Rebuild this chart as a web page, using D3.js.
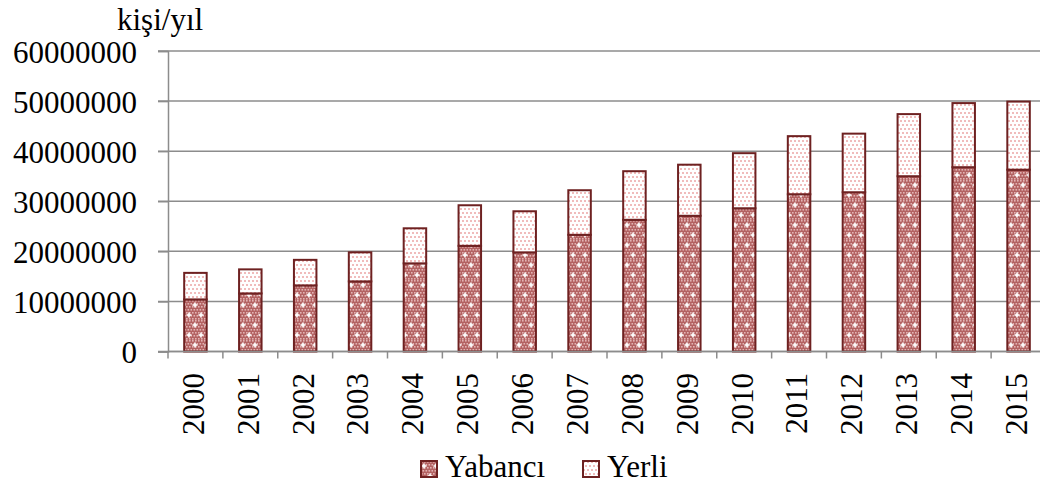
<!DOCTYPE html>
<html>
<head>
<meta charset="utf-8">
<script src="https://cdn.jsdelivr.net/npm/d3@7/dist/d3.min.js"></script>
</head>
<body style="margin:0; background:#fff">
<div id="chart"></div>
<script>
// data
var years = ["2000","2001","2002","2003","2004","2005","2006","2007",
             "2008","2009","2010","2011","2012","2013","2014","2015"];
var yabanci = [10.4, 11.6, 13.2, 14.0, 17.6, 21.1, 19.8, 23.3,
               26.3, 27.1, 28.6, 31.4, 31.8, 35.0, 36.8, 36.3].map(function(v) { return v * 1e6; });
var yerli = [5.3, 4.8, 5.1, 5.8, 7.0, 8.1, 8.2, 8.9,
             9.7, 10.2, 11.0, 11.6, 11.7, 12.4, 12.8, 13.6].map(function(v) { return v * 1e6; });
var yTicks = [0, 10000000, 20000000, 30000000, 40000000, 50000000, 60000000];
var keys = ["Yabancı", "Yerli"];

var W = 1040, H = 486;
var plotLeft = 168, plotRight = 1046, plotTop = 51, plotBottom = 351.5;
var serif = "\"Liberation Serif\"";
var fontSize = "31px";

var svg = d3.select("#chart").append("svg")
  .attr("width", W)
  .attr("height", H);

// fill patterns
var defs = svg.append("defs");

var pYab = defs.append("pattern")
  .attr("id", "pat-yab")
  .attr("patternUnits", "userSpaceOnUse")
  .attr("width", 12).attr("height", 20);
pYab.append("rect").attr("width", 12).attr("height", 20).attr("fill", "#b36262");
for (var i = 0; i < 4; i++) {
  for (var j = 0; j < 7; j++) {
    pYab.append("rect")
      .attr("x", i * 3 + ((j % 2) ? 1.5 : 0))
      .attr("y", j * 3)
      .attr("width", 1.6).attr("height", 1.6)
      .attr("fill", "#e3b3b3");
  }
}
[[3, 5], [9, 15]].forEach(function(p) {
  pYab.append("rect").attr("x", p[0] - 2.5).attr("y", p[1] - 0.8).attr("width", 5).attr("height", 1.6).attr("fill", "#fff");
  pYab.append("rect").attr("x", p[0] - 0.8).attr("y", p[1] - 2.5).attr("width", 1.6).attr("height", 5).attr("fill", "#fff");
});

var pYer = defs.append("pattern")
  .attr("id", "pat-yer")
  .attr("patternUnits", "userSpaceOnUse")
  .attr("width", 8).attr("height", 8);
pYer.append("rect").attr("width", 8).attr("height", 8).attr("fill", "#fff");
[[1, 1], [5, 1], [3, 5], [7, 5]].forEach(function(p) {
  pYer.append("rect").attr("x", p[0] - 1).attr("y", p[1] - 1)
    .attr("width", 2).attr("height", 2).attr("fill", "#f0bcbc");
});

var fills = { "Yabancı": "url(#pat-yab)", "Yerli": "url(#pat-yer)" };
var edge = "#6e2121";
var grey = "#8c8c8c";

// scales
var x = d3.scaleBand()
  .domain(years)
  .range([plotLeft, plotRight])
  .paddingInner(0.59)
  .paddingOuter(0.295);

var y = d3.scaleLinear()
  .domain([0, 60000000])
  .range([plotBottom, plotTop]);

// gridlines
svg.append("g")
  .selectAll("line")
  .data(yTicks)
  .enter().append("line")
  .attr("x1", plotLeft - 10)
  .attr("x2", W)
  .attr("y1", function(d) { return y(d); })
  .attr("y2", function(d) { return y(d); })
  .attr("stroke", grey)
  .attr("stroke-width", 1.5);

// y axis
var yAxis = svg.append("g")
  .attr("transform", "translate(" + plotLeft + ",0)")
  .call(d3.axisLeft(y).tickValues(yTicks).tickSize(10).tickPadding(21).tickFormat(d3.format("d")));
yAxis.select(".domain").attr("stroke", grey).attr("stroke-width", 1.5);
yAxis.selectAll(".tick line").attr("stroke", grey).attr("stroke-width", 1.5);
yAxis.selectAll(".tick text")
  .style("font-family", serif)
  .style("font-size", fontSize)
  .attr("fill", "#000")
  .attr("dy", "0.36em");

svg.append("text")
  .attr("x", 117)
  .attr("y", 30)
  .style("font-family", serif)
  .style("font-size", fontSize)
  .text("kişi/yıl");

// stacked bars
var rows = years.map(function(yr, i) {
  return { year: yr, "Yabancı": yabanci[i], "Yerli": yerli[i] };
});
var stack = d3.stack().keys(keys)(rows);

svg.append("g")
  .selectAll("g")
  .data(stack)
  .enter().append("g")
  .attr("fill", function(d) { return fills[d.key]; })
  .selectAll("rect")
  .data(function(d) { return d; })
  .enter().append("rect")
  .attr("x", function(d) { return x(d.data.year); })
  .attr("width", x.bandwidth())
  .attr("y", function(d) { return y(d[1]); })
  .attr("height", function(d) { return y(d[0]) - y(d[1]); })
  .attr("stroke", edge)
  .attr("stroke-width", 2);

// x axis
var gap = (x.step() - x.bandwidth()) / 2;
var bounds = years.map(function(d) { return x(d) - gap; }).concat([plotRight]);

svg.append("line")
  .attr("x1", plotLeft).attr("x2", W)
  .attr("y1", plotBottom).attr("y2", plotBottom)
  .attr("stroke", grey).attr("stroke-width", 1.5);

svg.append("g")
  .selectAll("line")
  .data(bounds)
  .enter().append("line")
  .attr("x1", function(d) { return d; })
  .attr("x2", function(d) { return d; })
  .attr("y1", plotBottom)
  .attr("y2", plotBottom + 7)
  .attr("stroke", grey)
  .attr("stroke-width", 1.5);

svg.append("g")
  .selectAll("text")
  .data(years)
  .enter().append("text")
  .attr("transform", function(d) {
    return "translate(" + (x(d) + x.bandwidth() / 2) + "," + 373 + ") rotate(-90)";
  })
  .attr("text-anchor", "end")
  .attr("dy", "0.27em")
  .style("font-family", serif)
  .style("font-size", fontSize)
  .text(function(d) { return d; });

// legend
var legend = svg.append("g")
  .selectAll("g")
  .data(keys)
  .enter().append("g")
  .attr("transform", function(d, i) { return "translate(" + [421, 583][i] + ",461)"; });

legend.append("rect")
  .attr("width", 16)
  .attr("height", 16)
  .attr("fill", function(d) { return fills[d]; })
  .attr("stroke", edge)
  .attr("stroke-width", 2);

legend.append("text")
  .attr("x", 24)
  .attr("y", 16)
  .style("font-family", serif)
  .style("font-size", fontSize)
  .text(function(d) { return d; });
</script>
</body>
</html>
